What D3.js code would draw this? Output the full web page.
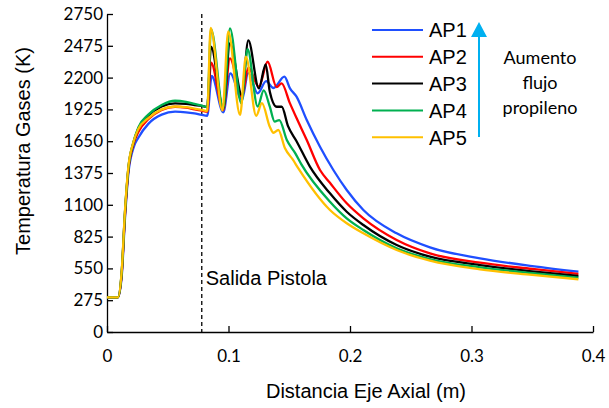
<!DOCTYPE html>
<html>
<head>
<meta charset="utf-8">
<script src="https://cdn.jsdelivr.net/npm/d3@7"></script>
<style>
  body { margin: 0; background: #fff; }
  .tick text { font-family: Lato, "Open Sans", sans-serif; font-size: 17px; fill: #000; }
  .domain, .tick line { stroke: #000; stroke-width: 1.3px; }
  .lbl { font-family: "Liberation Sans", Arial, sans-serif; font-size: 20px; fill: #000; }
</style>
</head>
<body>
<div id="chart"></div>
<script>
// values: [distance (m), temperature (K)]
var seriesNames = ["AP1", "AP2", "AP3", "AP4", "AP5"];
var seriesColors = ["#1f4fff", "#ff0000", "#000000", "#00b050", "#ffc000"];

var ap1 = [[0,300],[0.009,300],[0.0121,480],[0.0148,980],[0.0175,1360],[0.0217,1590],[0.0258,1680],
  [0.034,1800],[0.045,1880],[0.056,1905],[0.065,1900],[0.072,1890],[0.078,1877],[0.0825,1870],
  [0.0862,2214],[0.0957,1900],[0.1015,2237],[0.111,2006],[0.1163,2240],[0.124,2064],[0.131,2170],
  [0.137,2110],[0.146,2208],[0.1506,2107],[0.156,2035],[0.1644,1833],[0.1753,1602],[0.1863,1401],
  [0.1973,1228],[0.211,1055],[0.2384,853],[0.2658,732],[0.307,637],[0.35,570],[0.388,522]];
var ap2 = [[0,300],[0.009,300],[0.0121,500],[0.0148,1010],[0.0175,1390],[0.0217,1620],[0.0258,1730],
  [0.034,1840],[0.045,1920],[0.056,1948],[0.065,1940],[0.072,1925],[0.078,1914],[0.0825,1905],
  [0.0856,2329],[0.0957,1920],[0.1012,2367],[0.111,2035],[0.1163,2285],[0.125,2121],[0.1322,2337],
  [0.1396,2118],[0.1437,2150],[0.1506,1977],[0.156,1850],[0.1644,1660],[0.1753,1401],[0.1835,1290],
  [0.1973,1113],[0.211,983],[0.2384,796],[0.2658,680],[0.307,599],[0.35,545],[0.388,502]];
var ap3 = [[0,300],[0.009,300],[0.0121,515],[0.0148,1030],[0.0175,1405],[0.0217,1635],[0.0258,1760],
  [0.034,1870],[0.045,1950],[0.056,1977],[0.065,1972],[0.072,1963],[0.078,1955],[0.0825,1945],
  [0.0856,2467],[0.0957,1935],[0.1012,2497],[0.111,2049],[0.1163,2522],[0.125,2107],[0.1306,2315],
  [0.134,2078],[0.1397,1948],[0.1438,1948],[0.149,1780],[0.156,1650],[0.167,1430],[0.1835,1199],
  [0.1973,1040],[0.211,925],[0.2384,752],[0.2658,651],[0.307,579],[0.35,525],[0.388,484]];
var ap4 = [[0,300],[0.009,300],[0.0121,520],[0.0148,1040],[0.0175,1410],[0.0217,1640],[0.0258,1770],
  [0.034,1880],[0.045,1963],[0.056,2000],[0.065,1990],[0.072,1972],[0.078,1957],[0.0825,1945],
  [0.0856,2620],[0.0957,1930],[0.1012,2626],[0.1105,1977],[0.1157,2445],[0.124,1950],[0.129,2090],
  [0.134,1948],[0.138,1819],[0.1418,1833],[0.148,1660],[0.155,1545],[0.160,1450],[0.1835,1127],
  [0.1973,983],[0.211,882],[0.2384,724],[0.2658,631],[0.307,559],[0.35,508],[0.388,470]];
var ap5 = [[0,300],[0.009,300],[0.0121,530],[0.0148,1050],[0.0175,1420],[0.0217,1640],[0.0258,1755],
  [0.034,1850],[0.045,1925],[0.056,1950],[0.065,1945],[0.072,1932],[0.078,1920],[0.0825,1910],
  [0.0853,2630],[0.095,1915],[0.0998,2600],[0.1095,1877],[0.1143,2381],[0.1228,1870],[0.1275,1980],
  [0.134,1775],[0.137,1723],[0.141,1747],[0.1465,1589],[0.153,1490],[0.1575,1415],[0.1835,1055],
  [0.1973,940],[0.211,853],[0.2384,709],[0.2658,617],[0.307,542],[0.35,494],[0.388,456]];
var allSeries = [ap1, ap2, ap3, ap4, ap5];

var xTicks = [0, 0.1, 0.2, 0.3, 0.4];
var xTickLabels = ["0", "0.1", "0.2", "0.3", "0.4"];
var yTicks = [0, 275, 550, 825, 1100, 1375, 1650, 1925, 2200, 2475, 2750];
var exitX = 0.078; // Salida Pistola
var noteLines = ["Aumento", "flujo", "propileno"];

var margin = {top: 14, right: 16, bottom: 76, left: 107};
var width = 609 - margin.left - margin.right;
var height = 408 - margin.top - margin.bottom;

var x = d3.scaleLinear().domain([0, 0.4]).range([0, width]);
var y = d3.scaleLinear().domain([0, 2750]).range([height, 0]);

var svg = d3.select("#chart").append("svg")
    .attr("width", 609)
    .attr("height", 408)
  .append("g")
    .attr("transform", "translate(" + margin.left + "," + margin.top + ")");

// axes, ticks pointing inward
svg.append("g")
    .attr("transform", "translate(0," + height + ")")
    .call(d3.axisBottom(x).tickValues(xTicks)
        .tickFormat(function(d, i) { return xTickLabels[i]; })
        .tickSizeInner(-6).tickSizeOuter(0).tickPadding(18));

svg.append("g")
    .call(d3.axisLeft(y).tickValues(yTicks)
        .tickFormat(d3.format("d"))
        .tickSizeInner(-6).tickSizeOuter(0).tickPadding(4));

// gun exit line
svg.append("line")
    .attr("x1", x(exitX)).attr("x2", x(exitX))
    .attr("y1", 0).attr("y2", height)
    .attr("stroke", "#000")
    .attr("stroke-width", 1.3)
    .attr("stroke-dasharray", "4,3");

svg.append("text")
    .attr("class", "lbl")
    .attr("x", x(exitX) + 4)
    .attr("y", 271)
    .text("Salida Pistola");

var line = d3.line()
    .x(function(d) { return x(d[0]); })
    .y(function(d) { return y(d[1]); })
    .curve(d3.curveMonotoneX);

allSeries.forEach(function(s, i) {
    svg.append("path")
        .datum(s)
        .attr("d", line)
        .attr("fill", "none")
        .attr("stroke", seriesColors[i])
        .attr("stroke-width", 2.3);
});

// legend
var legend = svg.append("g").attr("transform", "translate(" + (372 - margin.left) + "," + (30 - margin.top) + ")");
seriesNames.forEach(function(name, i) {
    legend.append("line")
        .attr("x1", 0).attr("x2", 51)
        .attr("y1", i * 26.8).attr("y2", i * 26.8)
        .attr("stroke", seriesColors[i])
        .attr("stroke-width", 2);
    legend.append("text")
        .attr("class", "lbl")
        .attr("x", 57)
        .attr("y", i * 26.8 + 7.3)
        .text(name);
});

// arrow for increasing propylene flow
var ax = 479 - margin.left;
svg.append("line")
    .attr("x1", ax).attr("x2", ax)
    .attr("y1", 137 - margin.top).attr("y2", 36 - margin.top)
    .attr("stroke", "#00b0f0")
    .attr("stroke-width", 2);
svg.append("path")
    .attr("d", "M" + (ax - 8) + "," + (37 - margin.top) + "L" + ax + "," + (22 - margin.top) + "L" + (ax + 8) + "," + (37 - margin.top) + "Z")
    .attr("fill", "#00b0f0");

svg.append("text")
    .attr("text-anchor", "middle")
    .style("font-family", "Lato, sans-serif")
    .style("font-size", "18px")
    .selectAll("tspan")
    .data(noteLines)
    .enter().append("tspan")
    .attr("x", 540 - margin.left)
    .attr("y", function(d, i) { return 64 - margin.top + i * 25; })
    .text(function(d) { return d; });

// axis titles
svg.append("text")
    .attr("class", "lbl")
    .attr("text-anchor", "middle")
    .attr("x", 366 - margin.left)
    .attr("y", 398 - margin.top)
    .text("Distancia Eje Axial (m)");

svg.append("text")
    .attr("class", "lbl")
    .attr("text-anchor", "middle")
    .attr("transform", "translate(" + (30 - margin.left) + "," + (151 - margin.top) + ") rotate(-90)")
    .text("Temperatura Gases (K)");
</script>
</body>
</html>
